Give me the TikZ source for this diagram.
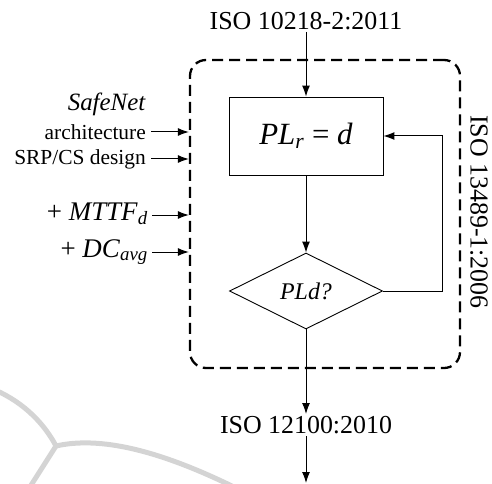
\documentclass[tikz,border=0pt]{standalone}
\usepackage{fontspec}
\setmainfont{Liberation Serif}
\usetikzlibrary{arrows.meta,shapes.geometric}
\begin{document}
\begin{tikzpicture}[x=1bp,y=-1bp,
  lbl/.style={inner sep=2bp,font=\fontsize{21.5}{24}\selectfont},
  biglbl/.style={inner sep=2bp,font=\fontsize{27}{30}\selectfont},
  isolbl/.style={inner sep=2bp,font=\fontsize{26}{30}\selectfont},
  arr/.style={line width=1bp,-{Latex[length=11bp,width=8bp]}},
  stepbox/.style={draw,line width=0.9bp,minimum width=154bp,minimum height=78bp,inner sep=0,font=\fontsize{31}{34}\selectfont},
  decbox/.style={draw,diamond,line width=0.9bp,minimum width=153bp,minimum height=76bp,inner sep=0,font=\fontsize{24}{28}\selectfont},
  framebox/.style={draw,dashed,dash pattern=on 11bp off 6bp,line width=2.3bp,rounded corners=16bp,minimum width=270bp,minimum height=308bp,inner sep=0},
  wmark/.style={draw=black!17,line width=5bp,line cap=round}]
\useasboundingbox (0,0) rectangle (492,484);
% watermark
\draw[wmark] (-5,390) .. controls (25,403) and (45,425) .. (56,446);
\draw[wmark] (56,446) .. controls (100,436) and (160,450) .. (240,490);
\draw[wmark] (56,446) -- (28,490);
% frame
\node[framebox] (frame) at (325,214) {};
% nodes
\node[isolbl] (top) at (306,21) {ISO 10218-2:2011};
\node[stepbox] (pl) at (306,136) {\textit{PL}\textsubscript{\textit{r}} = \textit{d}};
\node[decbox] (dec) at (306,291) {\textit{PLd?}};
\node[isolbl] (bot) at (306,425) {ISO 12100:2010};
\coordinate (end) at (306,483);
\node[isolbl,rotate=-90] (side) at (479,212) {ISO 13489-1:2006};
\node[lbl,anchor=east,font=\fontsize{25}{28}\selectfont] (safe) at (148,104) {\textit{SafeNet}};
\node[lbl,anchor=east] (arch) at (148,132) {architecture};
\node[lbl,anchor=east] (srp) at (148,159) {SRP/CS design};
\node[biglbl,anchor=east] (mttf) at (150,214) {+ \textit{MTTF}\textsubscript{\textit{d}}};
\node[biglbl,anchor=east] (dc) at (150,252) {+ \textit{DC}\textsubscript{\textit{avg}}};
% connectors
\draw[arr] (top) -- (pl);
\draw[arr] (pl) -- (dec);
\draw[arr] (dec.south) -- (bot.north);
\draw[arr] (bot.south) -- (end);
\draw[arr] (dec.east) -- ++(60,0) |- (pl.east);
\draw[arr] ([xshift=3bp]arch.east) -- (arch.east -| frame.west);
\draw[arr] ([xshift=3bp]srp.east) -- (srp.east -| frame.west);
\draw[arr] ([xshift=2bp,yshift=-1bp]mttf.east) -- ([yshift=-1bp]mttf.east -| frame.west);
\draw[arr] ([xshift=2bp]dc.east) -- (dc.east -| frame.west);
\end{tikzpicture}
\end{document}
